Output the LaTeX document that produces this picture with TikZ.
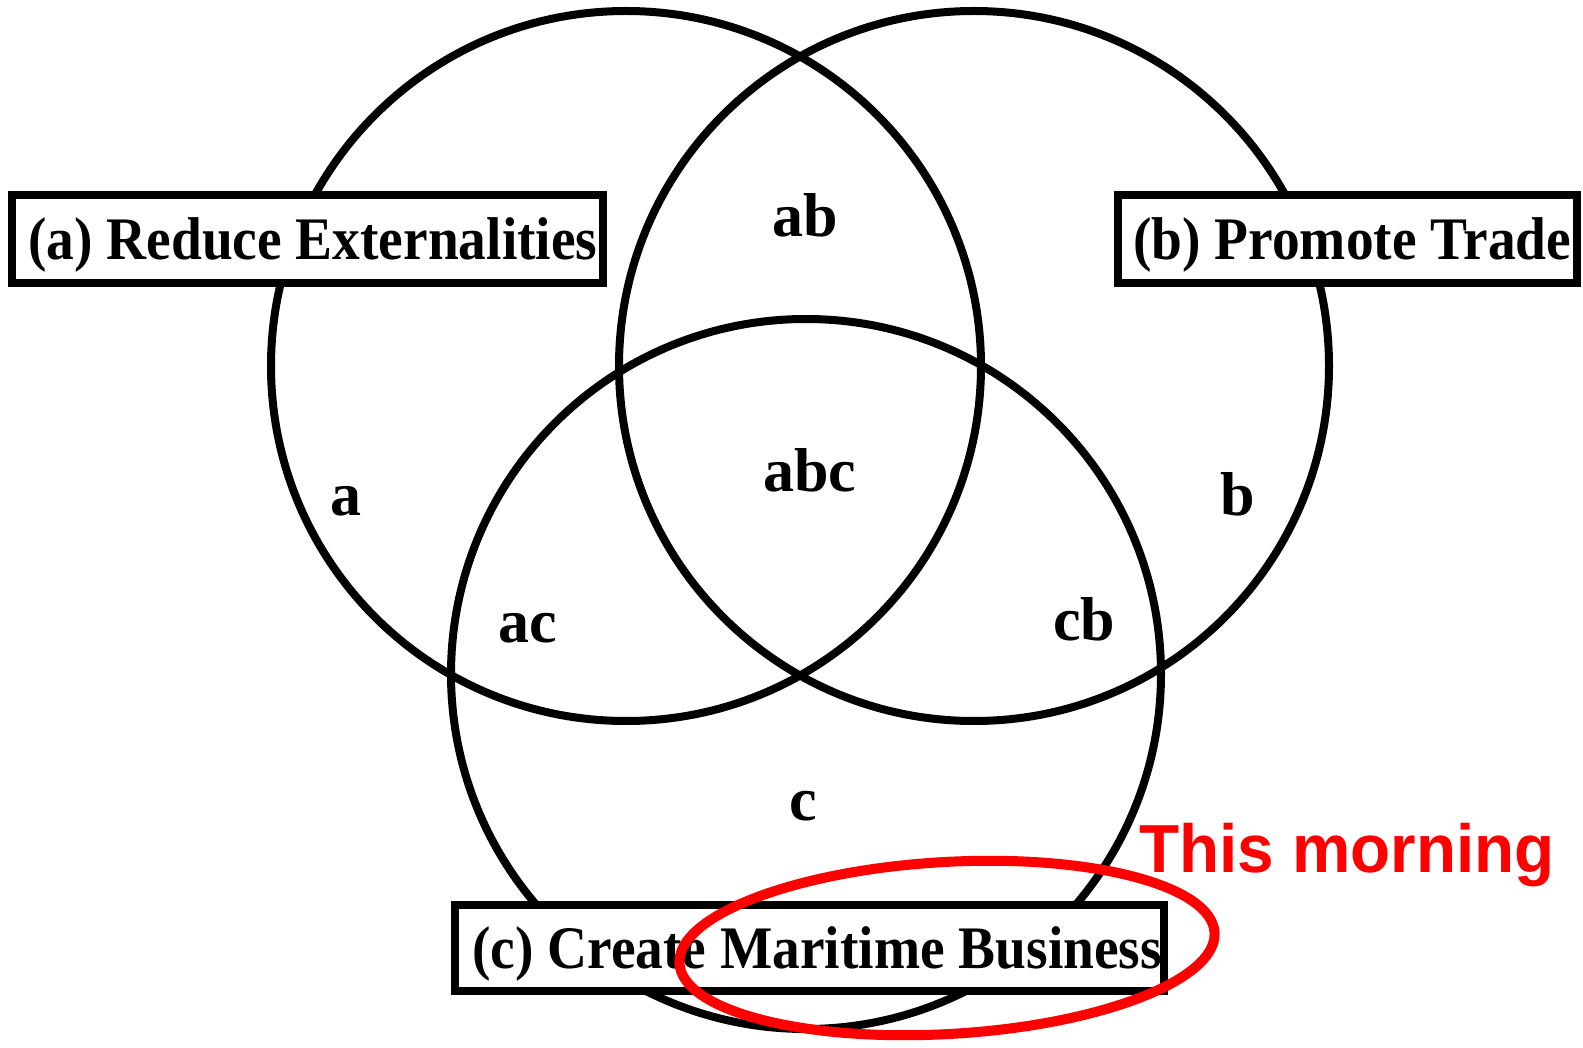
\documentclass[tikz,border=0pt]{standalone}
\usepackage{fontspec}
\usepackage{graphicx}
\setmainfont{Liberation Serif}
\newfontfamily\redfont{Liberation Sans}
\begin{document}
\begin{tikzpicture}[x=1pt,y=-1pt,
  ring/.style={draw=black,line width=8pt},
  boxstyle/.style={draw=black,fill=white,line width=8pt,rectangle,inner sep=0pt},
  boxtext/.style={anchor=base west,inner sep=0pt,font=\fontsize{55.4}{60}\selectfont\bfseries},
  region/.style={anchor=base,inner sep=0pt,font=\fontsize{62}{66}\selectfont\bfseries},
  mark ellipse/.style={draw=red,line width=10pt}]
\useasboundingbox (0,0) rectangle (1583,1048);
% circles
\draw[ring] (626,366) circle (355);
\draw[ring] (974,366) circle (355);
\draw[ring] (806,674) circle (355);
% region labels
\node[region] (lab) at (805,237) {ab};
\node[region] (labc) at (810,492) {abc};
\node[region] (la) at (346,515) {a};
\node[region] (lb) at (1238,515) {b};
\node[region] (lac) at (528,642) {ac};
\node[region] (lcb) at (1084,640) {cb};
\node[region] (lc) at (803,820) {c};
% boxes
\node[boxstyle,minimum width=591pt,minimum height=88pt] (boxA) at (307.5,239) {};
\node[boxtext] (textA) at (28,260) {\scalebox{1}[1.09]{(a) Reduce Externalities}};
\node[boxstyle,minimum width=459pt,minimum height=88pt] (boxB) at (1347.5,239) {};
\node[boxtext] (textB) at (1133,260) {\scalebox{1}[1.09]{(b) Promote Trade}};
\node[boxstyle,minimum width=709pt,minimum height=86pt] (boxC) at (809.5,948) {};
\node[boxtext] (textC) at (472,968) {\scalebox{1}[1.09]{(c) Create Maritime Business}};
% red annotation
\draw[mark ellipse,rotate around={3.3:(947,948)}] (947,948) ellipse [x radius=268, y radius=86];
\node[anchor=base west,inner sep=0pt,text=red,font=\redfont\fontsize{68}{72}\selectfont\bfseries] (note) at (1139,872) {\scalebox{0.965}[1]{This morning}};
\end{tikzpicture}
\end{document}
